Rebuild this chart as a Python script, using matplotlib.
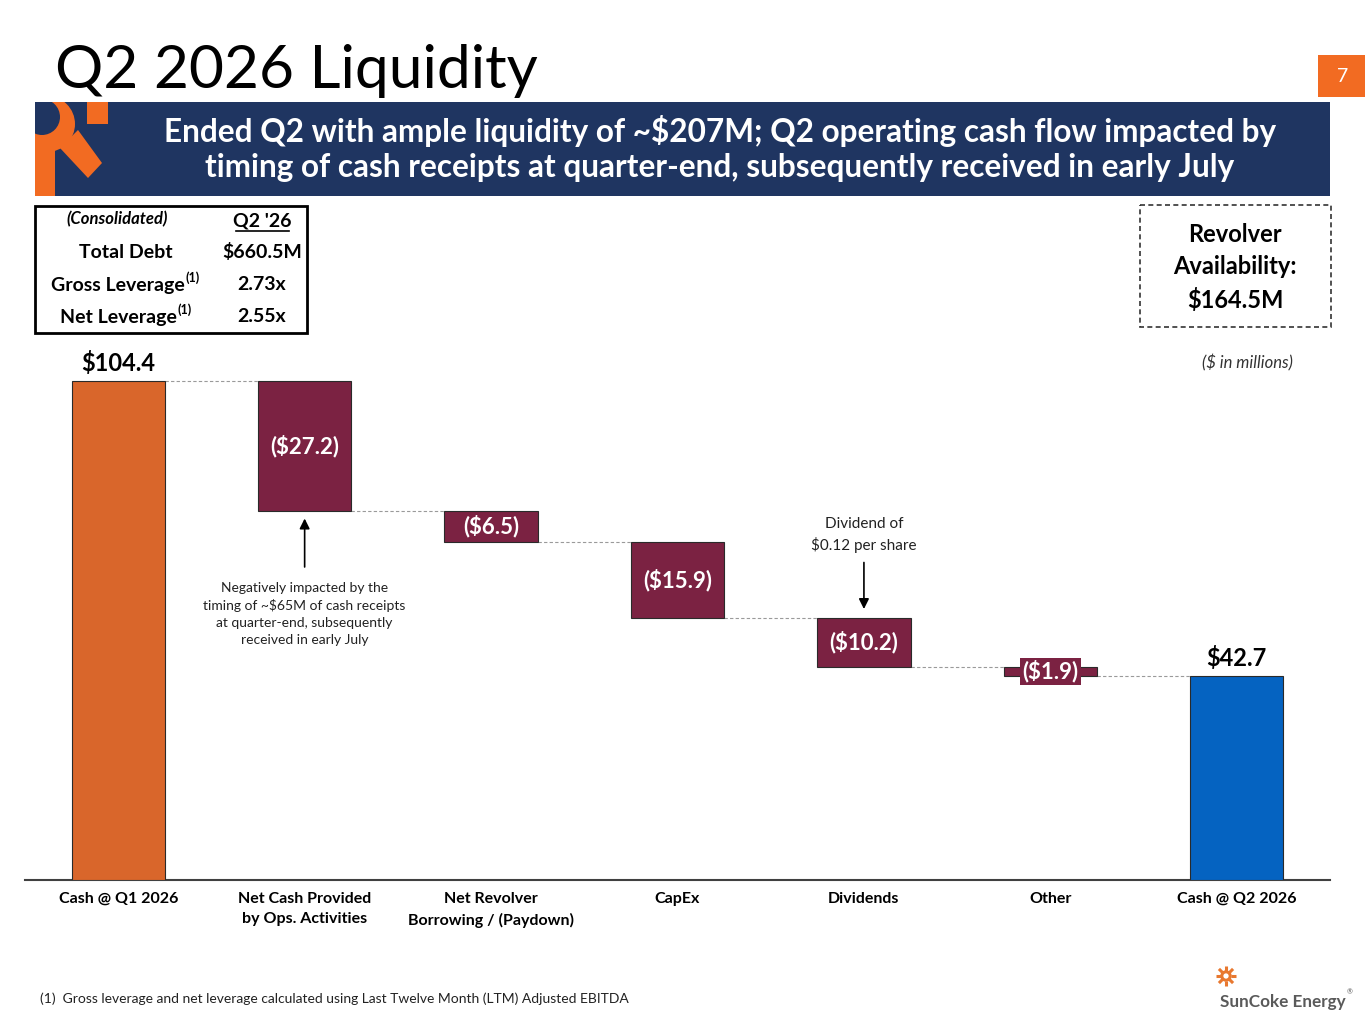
import numpy as np
import matplotlib
matplotlib.use("Agg")
import matplotlib.pyplot as plt
import matplotlib.transforms as mtransforms
from matplotlib.patches import Rectangle, Circle, Polygon

plt.rcParams['font.family'] = ['Lato', 'DejaVu Sans']

# ---------------- data ----------------
categories = ["Cash @ Q1 2026", "Net Cash Provided\nby Ops. Activities",
              "Net Revolver\nBorrowing / (Paydown)", "CapEx", "Dividends",
              "Other", "Cash @ Q2 2026"]
start_cash = 104.4
changes = [-27.2, -6.5, -15.9, -10.2, -1.9]
end_cash = 42.7
change_labels = ["($27.2)", "($6.5)", "($15.9)", "($10.2)", "($1.9)"]
total_labels = ["$104.4", "$42.7"]

table_rows = ["Total Debt", "Gross Leverage", "Net Leverage"]
table_vals = ["$660.5M", "2.73x", "2.55x"]
table_sup = ["", "(1)", "(1)"]

ORANGE = "#D9662B"
MAROON = "#7B2242"
BLUE = "#0563C1"
NAVY = "#1F3561"
PAGE_ORANGE = "#F26B22"

W, H = 1365, 1024
fig = plt.figure(figsize=(W / 100, H / 100), dpi=100)

# overlay axes in pixel coordinates for slide decorations
ov = fig.add_axes([0, 0, 1, 1])
ov.set_xlim(0, W)
ov.set_ylim(H, 0)
ov.axis("off")

# title
ov.text(55, 88, "Q2 2026 Liquidity", fontsize=43.5, color="black", va="baseline", ha="left")
# page number box
ov.add_patch(Rectangle((1318, 55), 47, 42, color=PAGE_ORANGE, lw=0))
ov.text(1343, 77, "7", color="white", fontsize=14, ha="center", va="center")

# banner
banner = Rectangle((35, 102), 1295, 94, color=NAVY, lw=0)
ov.add_patch(banner)
# logo in banner (clipped to banner)
logo_parts = [
    Rectangle((35, 128), 20, 68, color=PAGE_ORANGE, lw=0),
    Circle((47, 124), 28, color=PAGE_ORANGE, lw=0),
    Polygon([(60, 148), (78, 130), (102, 163), (88, 178)], closed=True, color=PAGE_ORANGE, lw=0),
    Circle((42, 117), 18, color=NAVY, lw=0),
    Rectangle((87, 102), 21, 22, color=PAGE_ORANGE, lw=0),
]
for p in logo_parts:
    ov.add_patch(p)
    p.set_clip_path(banner)
ov.text(720, 131, "Ended Q2 with ample liquidity of ~$207M; Q2 operating cash flow impacted by",
        color="white", fontsize=22.7, fontweight="bold", ha="center", va="center")
ov.text(720, 167, "timing of cash receipts at quarter-end, subsequently received in early July",
        color="white", fontsize=22.7, fontweight="bold", ha="center", va="center")

# table box
ov.add_patch(Rectangle((35, 206), 272, 127, fill=False, ec="black", lw=2))
ov.text(117, 219, "(Consolidated)", fontsize=12, fontstyle="italic", fontweight="bold",
        ha="center", va="center")
ov.text(262, 221, "Q2 '26", fontsize=14, fontweight="bold", ha="center", va="center")
ov.plot([236, 289], [231, 231], color="black", lw=1.2)
row_y = [252, 286, 318]
row_x = [126, 118, 118]
fig.canvas.draw()
for name, val, sup, y, x in zip(table_rows, table_vals, table_sup, row_y, row_x):
    t = ov.text(x, y, name, fontsize=14, fontweight="bold", ha="center", va="center")
    ov.text(262, y - 2 if sup else y, val, fontsize=14, fontweight="bold", ha="center", va="center")
    if sup:
        bb = t.get_window_extent(renderer=fig.canvas.get_renderer())
        ov.text(bb.x1 + 1, y - 8, sup, fontsize=9, fontweight="bold", ha="left", va="center",
                transform=mtransforms.blended_transform_factory(
                    mtransforms.IdentityTransform(), ov.transData))

# revolver box
ov.add_patch(Rectangle((1140, 205), 191, 122, fill=False, ec="#333333", lw=1.2,
                       ls=(0, (3, 2))))
for s, y in zip(["Revolver", "Availability:", "$164.5M"], [234, 267, 300]):
    ov.text(1235, y, s, fontsize=17, fontweight="bold", ha="center", va="center")
ov.text(1247, 363, "($ in millions)", fontsize=12, fontstyle="italic", color="#333333",
        ha="center", va="center")

# footnote
ov.text(40, 999, "(1)  Gross leverage and net leverage calculated using Last Twelve Month (LTM) Adjusted EBITDA",
        fontsize=10, color="#222222", ha="left", va="center")

# SunCoke logo
cx, cy = 1226, 976
for a in np.linspace(0, 2 * np.pi, 8, endpoint=False):
    ov.plot([cx + 5 * np.cos(a), cx + 10 * np.cos(a)], [cy + 5 * np.sin(a), cy + 10 * np.sin(a)],
            color="#E8782F", lw=2.2, solid_capstyle="butt")
ov.add_patch(Circle((cx, cy), 4.2, fill=False, ec="#E8782F", lw=2.2))
ov.text(1220, 1002, "SunCoke Energy", fontsize=12.3, color="#5A5A5A", fontweight="bold",
        ha="left", va="center")
ov.text(1347, 992, "®", fontsize=5, color="#5A5A5A", ha="left", va="center")

# ---------------- waterfall chart ----------------
ax = fig.add_axes([25 / W, (H - 880) / H, 1305 / W, 511.5 / H])
ax.set_zorder(2)
ax.patch.set_alpha(0)

x = np.arange(len(categories))
levels = np.concatenate([[start_cash], start_cash + np.cumsum(changes)])
bottoms = [0] + list(levels[1:]) + [0]
heights = [start_cash] + [-c for c in changes] + [end_cash]
colors = [ORANGE] + [MAROON] * len(changes) + [BLUE]
bw = 0.5
ax.bar(x, heights, bottom=bottoms, width=bw, color=colors, edgecolor="#2a2a2a", lw=0.8, zorder=3)

# connectors
for i in range(len(categories) - 1):
    lvl = levels[i] if i < len(levels) else end_cash
    ax.plot([x[i] + bw / 2, x[i + 1] - bw / 2], [lvl, lvl], ls=(0, (3, 2)),
            color="#9a9a9a", lw=0.8, zorder=2)

# total labels
for xi, val, lab in [(x[0], start_cash, total_labels[0]), (x[-1], end_cash, total_labels[1])]:
    ax.annotate(lab, (xi, val), xytext=(0, 4), textcoords="offset points",
                ha="center", va="bottom", fontsize=17, fontweight="bold", color="black")

# change labels
for i, (c, lab) in enumerate(zip(changes, change_labels)):
    xi = x[i + 1]
    mid = levels[i] + c / 2
    kw = dict(ha="center", va="center", fontsize=16, fontweight="bold", color="white", zorder=5)
    if abs(c) < 3:
        kw["bbox"] = dict(boxstyle="square,pad=0.1", fc=MAROON, ec="none")
    ax.text(xi, mid, lab, **kw)

# annotations
ops_bottom = levels[1]
ax.annotate("", xy=(x[1], ops_bottom - 1.0), xytext=(x[1], ops_bottom - 12.3),
            arrowprops=dict(arrowstyle="-|>,head_width=0.3,head_length=0.6", color="black", lw=1.2))
ax.text(x[1], ops_bottom - 21.6,
        "Negatively impacted by the\ntiming of ~$65M of cash receipts\nat quarter-end, subsequently\nreceived in early July",
        ha="center", va="center", fontsize=10, color="#222222", linespacing=1.5)
div_top = levels[3]
ax.annotate("", xy=(x[4], div_top + 1.3), xytext=(x[4], div_top + 12.2),
            arrowprops=dict(arrowstyle="-|>,head_width=0.3,head_length=0.6", color="black", lw=1.2))
ax.text(x[4], div_top + 17.4, "Dividend of\n$0.12 per share", ha="center", va="center",
        fontsize=11, color="#222222", linespacing=1.45)

ax.set_xlim(-0.5, len(categories) - 0.5)
ax.set_ylim(0, 107.0)
ax.set_yticks([])
ax.set_xticks(x)
ax.set_xticklabels(categories, fontsize=11.5, fontweight="bold", linespacing=1.6, va="top")
ax.tick_params(axis="x", length=0, pad=8.5)
for s in ["top", "right", "left"]:
    ax.spines[s].set_visible(False)
ax.spines["bottom"].set_color("#404040")
ax.spines["bottom"].set_linewidth(1.5)

fig.savefig("out.png", dpi=100)
